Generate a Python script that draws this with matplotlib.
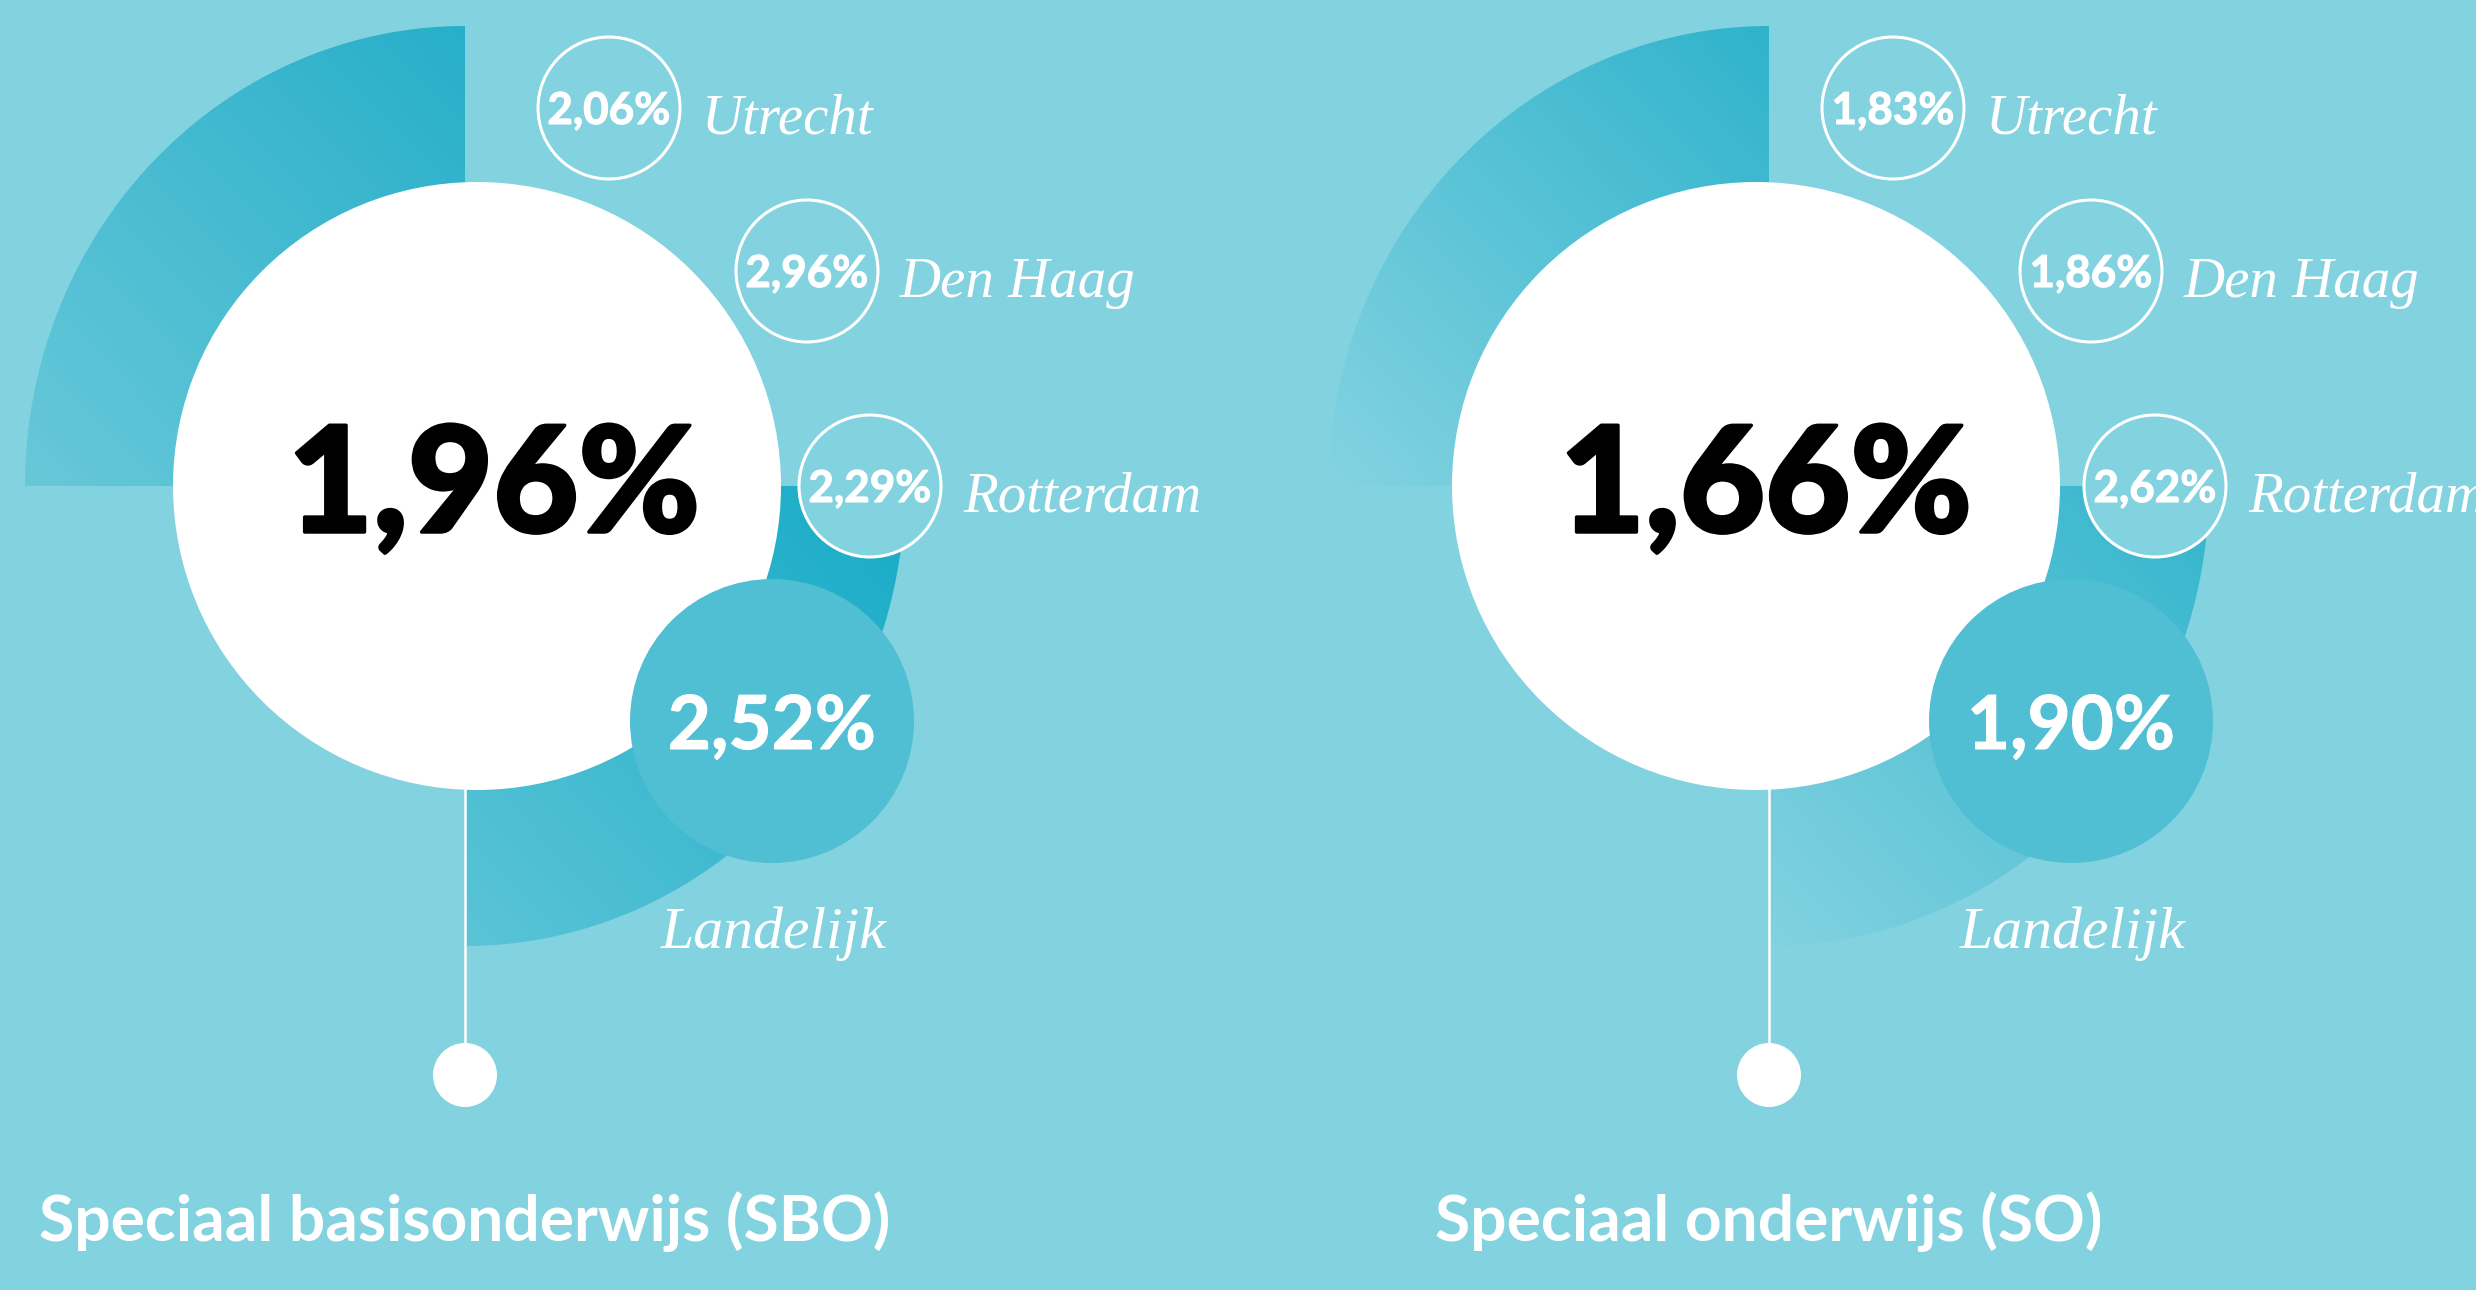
import numpy as np
import matplotlib
matplotlib.use("Agg")
import matplotlib.pyplot as plt
from matplotlib.patches import Circle, PathPatch
from matplotlib.path import Path
from matplotlib.colors import to_rgb
import matplotlib.patheffects as pe

# ---------------- data ----------------
panel_titles = ["Speciaal basisonderwijs (SBO)", "Speciaal onderwijs (SO)"]
main_values = [1.96, 1.66]
cities = ["Utrecht", "Den Haag", "Rotterdam"]
city_values_sbo = [2.06, 2.96, 2.29]
city_values_so = [1.83, 1.86, 2.62]
national_label = "Landelijk"
national_values = [2.52, 1.90]

city_values = [city_values_sbo, city_values_so]


def fmt(v):
    return f"{v:.2f}".replace(".", ",") + "%"


# ---------------- layout / style ----------------
W, H, DPI = 2476, 1290, 100
BG = "#82D2E0"
LAND_C = "#51BFD3"
SANS = ["Lato", "DejaVu Sans"]
SERIF = ["Liberation Serif", "DejaVu Serif"]

vertex_x = [465, 1769]
white_cx = [477, 1756]
CY = 486
WHITE_R = 304
WRX, WRY = 440, 460
city_cx = [[609, 807, 870], [1893, 2091, 2155]]
city_cy = [108, 271, 486]
CITY_R = 71
land_cx = [772, 2071]
land_cy = 721
LAND_R = 142
big_x = [494, 1766]
DOT_Y, DOT_R = 1075, 32

grad = [
    {"top": ("#68C8D9", "#27AFC9"), "bot": ("#5BC4D7", "#17ABC7")},
    {"top": ("#84D3E1", "#2FB3CC"), "bot": ("#82D2E0", "#34B5CD")},
]

fig = plt.figure(figsize=(W / DPI, H / DPI), dpi=DPI)
fig.patch.set_facecolor(BG)
ax = fig.add_axes([0, 0, 1, 1])
ax.set_facecolor(BG)
ax.axis("off")
ax.set_xlim(0, W)
ax.set_ylim(H, 0)
renderer = fig.canvas.get_renderer()
PX_PER_PT = DPI / 72.0


def fit_size(s, target_w, target_cap, family, weight="normal", style="normal",
             cap_ratio=0.7165, wexp=0.5):
    t = ax.text(0, 0, s, fontsize=50, family=family, weight=weight, style=style)
    w = t.get_window_extent(renderer).width
    t.remove()
    s_w = 50 * target_w / w
    s_h = target_cap / (cap_ratio * PX_PER_PT)
    return float(s_w ** wexp * s_h ** (1 - wexp))


SZ_BIG = fit_size("1,96%", 411, 106, SANS, "black", wexp=0.6)
SZ_SMALL = fit_size("2,06%", 125, 30, SANS, "bold", wexp=0.75)
SZ_LANDV = fit_size("2,52%", 209, 53, SANS, "bold", wexp=0.7)
SZ_CITY = fit_size("Rotterdam", 234, 44, SERIF, style="italic", cap_ratio=0.655, wexp=0.9)
SZ_LANDL = fit_size("Landelijk", 212, 43, SERIF, style="italic", cap_ratio=0.655, wexp=0.6)
SZ_TITLE = fit_size(panel_titles[0], 878, 41, SANS, "bold", wexp=0.8)

BIG_FX = [pe.withStroke(linewidth=2.5, foreground="black")]
WHITE_FX = [pe.withStroke(linewidth=0.8, foreground="white")]


def grad_wedge(cx, cy, rx, ry, a0, a1, c_start, c_end, z):
    th = np.linspace(a0, a1, 300)
    xs = cx + rx * np.cos(th)
    ys = cy - ry * np.sin(th)
    verts = [(cx, cy)] + list(zip(xs, ys)) + [(cx, cy)]
    codes = [Path.MOVETO] + [Path.LINETO] * len(xs) + [Path.CLOSEPOLY]
    patch = PathPatch(Path(verts, codes), facecolor="none", edgecolor="none")
    ax.add_patch(patch)
    x0, x1 = min(xs.min(), cx), max(xs.max(), cx)
    y0, y1 = min(ys.min(), cy), max(ys.max(), cy)
    X, Y = np.meshgrid(np.linspace(0, 1, 300), np.linspace(0, 1, 300))
    t = (X + (1 - Y)) / 2.0
    cs, ce = np.array(to_rgb(c_start)), np.array(to_rgb(c_end))
    img = cs + (ce - cs) * t[..., None]
    im = ax.imshow(img, extent=(x0, x1, y1, y0), origin="upper", zorder=z,
                   interpolation="bilinear", aspect="auto")
    im.set_clip_path(patch)


for p in range(2):
    vx = vertex_x[p]
    # background wedges
    grad_wedge(vx, CY, WRX, WRY, np.pi / 2, np.pi, *grad[p]["top"], z=1)
    grad_wedge(vx, CY, WRX, WRY, 0, -np.pi / 2, *grad[p]["bot"], z=1)

    # stem line and dot
    ax.plot([vx, vx], [CY, DOT_Y], color="white", lw=1.8, zorder=2, solid_capstyle="butt")
    ax.add_patch(Circle((vx, DOT_Y), DOT_R, facecolor="white", edgecolor="none", zorder=3))

    # main white circle with value
    ax.add_patch(Circle((white_cx[p], CY), WHITE_R, facecolor="white", edgecolor="none", zorder=4))
    ax.text(big_x[p], 532, fmt(main_values[p]), ha="center", va="baseline",
            fontsize=SZ_BIG, family=SANS, weight="black", color="black", zorder=6,
            path_effects=BIG_FX)

    # city circles
    for i, city in enumerate(cities):
        cx, cy = city_cx[p][i], city_cy[i]
        ax.add_patch(Circle((cx, cy), CITY_R, facecolor=BG, edgecolor="white", lw=2.2, zorder=5))
        ax.text(cx, cy + 16, fmt(city_values[p][i]), ha="center", va="baseline",
                fontsize=SZ_SMALL, family=SANS, weight="bold", color="white", zorder=6,
                path_effects=WHITE_FX)
        ax.text(cx + CITY_R + 22, cy + 26, city, ha="left", va="baseline",
                fontsize=SZ_CITY, family=SERIF, style="italic", color="white", zorder=6)

    # national circle
    ax.add_patch(Circle((land_cx[p], land_cy), LAND_R, facecolor=LAND_C, edgecolor="none", zorder=5))
    ax.text(land_cx[p], land_cy + 28, fmt(national_values[p]), ha="center", va="baseline",
            fontsize=SZ_LANDV, family=SANS, weight="bold", color="white", zorder=6,
            path_effects=WHITE_FX)
    ax.text(land_cx[p] + 2, land_cy + 227, national_label, ha="center", va="baseline",
            fontsize=SZ_LANDL, family=SERIF, style="italic", color="white", zorder=6)

    # panel title
    ax.text(vx, 1241, panel_titles[p], ha="center", va="baseline",
            fontsize=SZ_TITLE, family=SANS, weight="bold", color="white", zorder=6)

ax.set_xlim(0, W)
ax.set_ylim(H, 0)
fig.savefig("out.png", dpi=DPI, facecolor=BG)
